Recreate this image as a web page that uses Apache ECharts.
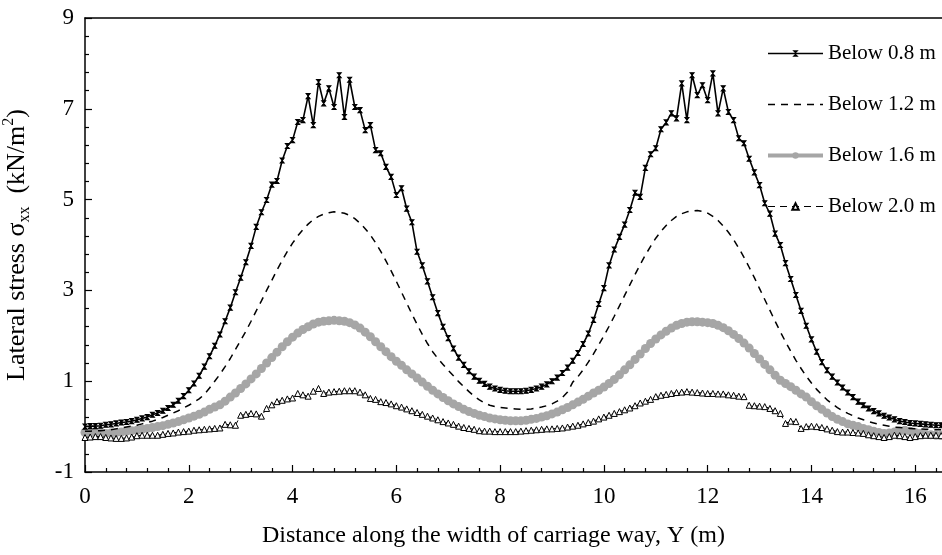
<!DOCTYPE html>
<html>
<head>
<meta charset="utf-8">
<script src="https://cdn.jsdelivr.net/npm/echarts@6/dist/echarts.min.js"></script>
<style>
  html, body { margin: 0; padding: 0; background: #fff; }
  #chart { width: 942px; height: 555px; }
</style>
</head>
<body>
<div id="chart"></div>
<script>
// Positions across the carriage way, Y (m)
const distance = [
  0.0, 0.1, 0.2, 0.3, 0.4, 0.5, 0.6, 0.7, 0.8, 0.9,
  1.0, 1.1, 1.2, 1.3, 1.4, 1.5, 1.6, 1.7, 1.8, 1.9,
  2.0, 2.1, 2.2, 2.3, 2.4, 2.5, 2.6, 2.7, 2.8, 2.9,
  3.0, 3.1, 3.2, 3.3, 3.4, 3.5, 3.6, 3.7, 3.8, 3.9,
  4.0, 4.1, 4.2, 4.3, 4.4, 4.5, 4.6, 4.7, 4.8, 4.9,
  5.0, 5.1, 5.2, 5.3, 5.4, 5.5, 5.6, 5.7, 5.8, 5.9,
  6.0, 6.1, 6.2, 6.3, 6.4, 6.5, 6.6, 6.7, 6.8, 6.9,
  7.0, 7.1, 7.2, 7.3, 7.4, 7.5, 7.6, 7.7, 7.8, 7.9,
  8.0, 8.1, 8.2, 8.3, 8.4, 8.5, 8.6, 8.7, 8.8, 8.9,
  9.0, 9.1, 9.2, 9.3, 9.4, 9.5, 9.6, 9.7, 9.8, 9.9,
  10.0, 10.1, 10.2, 10.3, 10.4, 10.5, 10.6, 10.7, 10.8, 10.9,
  11.0, 11.1, 11.2, 11.3, 11.4, 11.5, 11.6, 11.7, 11.8, 11.9,
  12.0, 12.1, 12.2, 12.3, 12.4, 12.5, 12.6, 12.7, 12.8, 12.9,
  13.0, 13.1, 13.2, 13.3, 13.4, 13.5, 13.6, 13.7, 13.8, 13.9,
  14.0, 14.1, 14.2, 14.3, 14.4, 14.5, 14.6, 14.7, 14.8, 14.9,
  15.0, 15.1, 15.2, 15.3, 15.4, 15.5, 15.6, 15.7, 15.8, 15.9,
  16.0, 16.1, 16.2, 16.3, 16.4, 16.5
];

// Lateral stress (kN/m2) below 0.8 m
const below08 = [
  0.00, 0.01, 0.01, 0.02, 0.04, 0.05, 0.07, 0.09, 0.10, 0.12,
  0.15, 0.18, 0.21, 0.26, 0.30, 0.35, 0.41, 0.48, 0.57, 0.67,
  0.80, 0.95, 1.12, 1.32, 1.55, 1.78, 2.03, 2.32, 2.62, 2.96,
  3.28, 3.62, 3.98, 4.40, 4.72, 4.99, 5.33, 5.41, 5.86, 6.18,
  6.31, 6.71, 6.75, 7.28, 6.64, 7.59, 7.12, 7.45, 7.04, 7.74,
  6.82, 7.64, 7.04, 6.97, 6.53, 6.64, 6.09, 6.02, 5.72, 5.50,
  5.10, 5.25, 4.80, 4.50, 3.85, 3.55, 3.20, 2.85, 2.50, 2.20,
  1.95, 1.72, 1.52, 1.36, 1.22, 1.10, 1.01, 0.94, 0.88, 0.84,
  0.81, 0.79, 0.78, 0.78, 0.78, 0.79, 0.81, 0.84, 0.88, 0.93,
  1.00, 1.08, 1.18, 1.30, 1.45, 1.62, 1.82, 2.05, 2.35, 2.70,
  3.05, 3.55, 3.90, 4.18, 4.45, 4.77, 5.15, 5.06, 5.70, 6.00,
  6.13, 6.55, 6.70, 6.90, 6.79, 7.56, 6.75, 7.74, 7.30, 7.52,
  7.19, 7.78, 6.90, 7.45, 6.93, 6.75, 6.35, 6.24, 5.90, 5.60,
  5.32, 4.92, 4.69, 4.25, 4.00, 3.60, 3.25, 2.90, 2.55, 2.22,
  1.92, 1.65, 1.42, 1.24, 1.10, 0.97, 0.86, 0.75, 0.65, 0.55,
  0.47, 0.40, 0.34, 0.29, 0.24, 0.20, 0.16, 0.12, 0.10, 0.08,
  0.07, 0.06, 0.05, 0.04, 0.03, 0.03
];

// Lateral stress (kN/m2) below 1.2 m
const below12 = [
  -0.10, -0.10, -0.09, -0.09, -0.08, -0.07, -0.05, -0.03, -0.01, 0.01,
  0.03, 0.06, 0.09, 0.12, 0.16, 0.20, 0.25, 0.30, 0.35, 0.41,
  0.47, 0.54, 0.61, 0.71, 0.85, 1.00, 1.15, 1.32, 1.50, 1.70,
  1.90, 2.10, 2.32, 2.55, 2.77, 3.00, 3.22, 3.45, 3.66, 3.86,
  4.04, 4.20, 4.34, 4.46, 4.56, 4.63, 4.68, 4.71, 4.73, 4.72,
  4.70, 4.65, 4.58, 4.48, 4.36, 4.22, 4.05, 3.86, 3.65, 3.43,
  3.20, 2.96, 2.72, 2.48, 2.25, 2.03, 1.83, 1.65, 1.50, 1.37,
  1.24, 1.12, 0.99, 0.88, 0.77, 0.67, 0.59, 0.52, 0.47, 0.44,
  0.42, 0.41, 0.40, 0.39, 0.38, 0.38, 0.39, 0.41, 0.43, 0.46,
  0.50, 0.56, 0.64, 0.76, 0.98, 1.10, 1.25, 1.42, 1.60, 1.80,
  2.00, 2.21, 2.43, 2.66, 2.89, 3.12, 3.35, 3.57, 3.78, 3.97,
  4.15, 4.30, 4.43, 4.54, 4.63, 4.69, 4.73, 4.75, 4.76, 4.74,
  4.70, 4.63, 4.54, 4.42, 4.28, 4.12, 3.93, 3.73, 3.51, 3.28,
  3.04, 2.80, 2.56, 2.32, 2.09, 1.87, 1.66, 1.46, 1.28, 1.11,
  0.96, 0.82, 0.70, 0.59, 0.50, 0.42, 0.35, 0.29, 0.24, 0.19,
  0.15, 0.11, 0.08, 0.05, 0.03, 0.01, -0.01, -0.02, -0.03, -0.04,
  -0.05, -0.05, -0.06, -0.06, -0.07, -0.07
];

// Lateral stress (kN/m2) below 1.6 m
const below16 = [
  -0.13, -0.14, -0.14, -0.15, -0.15, -0.14, -0.13, -0.12, -0.10, -0.09,
  -0.08, -0.06, -0.04, -0.02, 0.00, 0.02, 0.05, 0.08, 0.11, 0.15,
  0.19, 0.23, 0.27, 0.32, 0.38, 0.43, 0.48, 0.56, 0.65, 0.74,
  0.84, 0.94, 1.05, 1.16, 1.28, 1.40, 1.52, 1.64, 1.76, 1.87,
  1.97, 2.06, 2.14, 2.20, 2.26, 2.30, 2.32, 2.33, 2.34, 2.33,
  2.32, 2.29, 2.24, 2.17, 2.08, 1.98, 1.87, 1.76, 1.65, 1.54,
  1.44, 1.35, 1.25, 1.16, 1.07, 0.98, 0.89, 0.80, 0.72, 0.64,
  0.57, 0.50, 0.44, 0.38, 0.33, 0.29, 0.25, 0.22, 0.19, 0.17,
  0.15, 0.14, 0.13, 0.13, 0.13, 0.14, 0.16, 0.18, 0.21, 0.24,
  0.28, 0.32, 0.37, 0.42, 0.48, 0.54, 0.60, 0.67, 0.74, 0.80,
  0.87, 0.95, 1.04, 1.14, 1.25, 1.36, 1.48, 1.60, 1.72, 1.83,
  1.93, 2.02, 2.10, 2.17, 2.23, 2.27, 2.30, 2.31, 2.31, 2.30,
  2.29, 2.27, 2.23, 2.18, 2.11, 2.03, 1.94, 1.84, 1.73, 1.61,
  1.49, 1.37, 1.25, 1.13, 1.02, 0.95, 0.88, 0.80, 0.72, 0.65,
  0.55, 0.46, 0.38, 0.30, 0.22, 0.16, 0.11, 0.06, 0.03, 0.00,
  -0.04, -0.07, -0.10, -0.13, -0.15, -0.14, -0.12, -0.10, -0.08, -0.10,
  -0.13, -0.15, -0.17, -0.18, -0.19, -0.19
];

// Lateral stress (kN/m2) below 2.0 m
const below20 = [
  -0.24, -0.23, -0.22, -0.22, -0.24, -0.25, -0.26, -0.26, -0.25, -0.23,
  -0.20, -0.19, -0.19, -0.19, -0.19, -0.17, -0.15, -0.14, -0.12, -0.11,
  -0.10, -0.08, -0.07, -0.06, -0.05, -0.04, -0.03, 0.05, 0.04, 0.03,
  0.25, 0.27, 0.29, 0.28, 0.23, 0.40, 0.48, 0.55, 0.58, 0.61,
  0.63, 0.73, 0.70, 0.67, 0.78, 0.84, 0.73, 0.76, 0.77, 0.78,
  0.79, 0.79, 0.79, 0.76, 0.70, 0.62, 0.60, 0.55, 0.53, 0.50,
  0.46, 0.43, 0.39, 0.35, 0.31, 0.27, 0.23, 0.19, 0.15, 0.11,
  0.08, 0.05, 0.01, -0.02, -0.04, -0.06, -0.09, -0.10, -0.10, -0.11,
  -0.11, -0.11, -0.11, -0.11, -0.10, -0.09, -0.08, -0.07, -0.06, -0.05,
  -0.05, -0.04, -0.03, -0.01, 0.01, 0.03, 0.06, 0.09, 0.12, 0.17,
  0.21, 0.25, 0.29, 0.33, 0.37, 0.41, 0.46, 0.52, 0.56, 0.60,
  0.66, 0.69, 0.71, 0.73, 0.75, 0.76, 0.77, 0.76, 0.75, 0.74,
  0.73, 0.73, 0.72, 0.72, 0.70, 0.69, 0.67, 0.66, 0.47, 0.46,
  0.45, 0.44, 0.40, 0.35, 0.29, 0.07, 0.12, 0.11, -0.04, 0.00,
  0.01, 0.00, -0.02, -0.05, -0.08, -0.11, -0.12, -0.12, -0.13, -0.14,
  -0.15, -0.18, -0.20, -0.22, -0.24, -0.22, -0.19, -0.20, -0.22, -0.24,
  -0.22, -0.20, -0.19, -0.19, -0.19, -0.20
];

const seriesNames = ['Below 0.8 m', 'Below 1.2 m', 'Below 1.6 m', 'Below 2.0 m'];

const FONT = '"Liberation Serif", "Times New Roman", serif';

function pairs(values) {
  return distance.map((d, i) => [d, values[i]]);
}

// Small vertical bow-tie marker used for the 0.8 m curve
const bowTie = 'path://M0,0 L10,0 L0,10 L10,10 Z';

const chart = echarts.init(document.getElementById('chart'), null, { renderer: 'canvas' });

const axisCommon = {
  type: 'value',
  axisLine: { show: true, onZero: false, lineStyle: { color: '#000', width: 1.5 } },
  axisTick: { show: true, inside: true, length: 7, lineStyle: { color: '#000', width: 1.2 } },
  minorTick: { show: true, splitNumber: 5, length: 4, lineStyle: { color: '#000', width: 1.2 } },
  splitLine: { show: false },
  minorSplitLine: { show: false },
  axisLabel: { color: '#000', fontFamily: FONT, fontSize: 23 }
};

chart.setOption({
  animation: false,
  backgroundColor: '#fff',
  grid: { left: 85, right: -77, top: 18, bottom: 83, outerBoundsMode: 'none' },
  legend: {
    orient: 'vertical',
    left: 761,
    top: 38,
    itemWidth: 55,
    itemHeight: 8,
    itemGap: 30,
    lineStyle: { width: 'inherit' },
    textStyle: { color: '#000', fontFamily: FONT, fontSize: 21 },
    data: [
      { name: seriesNames[0] },
      { name: seriesNames[1], itemStyle: { opacity: 0 } },
      { name: seriesNames[2] },
      { name: seriesNames[3], lineStyle: { type: [7, 5], width: 1.2 } }
    ]
  },
  xAxis: [
    Object.assign({}, axisCommon, {
      min: 0, max: 18, interval: 2,
      position: 'bottom',
      axisLabel: Object.assign({}, axisCommon.axisLabel, { margin: 13 })
    }),
    {
      type: 'value', min: 0, max: 18, position: 'top',
      axisLine: { show: true, onZero: false, lineStyle: { color: '#000', width: 1.5 } },
      axisTick: { show: false }, axisLabel: { show: false }, splitLine: { show: false }
    }
  ],
  yAxis: Object.assign({}, axisCommon, {
    min: -1, max: 9, interval: 2,
    axisLabel: Object.assign({}, axisCommon.axisLabel, { margin: 11 }),
    name: '{t|Lateral stress σ}{s|xx}{t|  (kN/m}{p|2}{t|)}',
    nameLocation: 'middle',
    nameRotate: 90,
    nameGap: 52,
    nameTextStyle: {
      color: '#000',
      rich: {
        t: { fontFamily: FONT, fontSize: 26, color: '#000' },
        s: { fontFamily: FONT, fontSize: 16, color: '#000', padding: [16, 0, 0, 0] },
        p: { fontFamily: FONT, fontSize: 16, color: '#000', padding: [0, 0, 16, 0] }
      }
    }
  }),
  graphic: [{
    type: 'text',
    left: 262,
    top: 524,
    style: {
      text: 'Distance along the width of carriage way, Y (m)',
      fill: '#000',
      font: '24px ' + FONT
    }
  }],
  series: [
    {
      name: seriesNames[0], type: 'line', data: pairs(below08),
      symbol: bowTie, symbolSize: [4, 5], showAllSymbol: true,
      lineStyle: { color: '#000', width: 1.6 },
      itemStyle: { color: '#000', borderColor: '#000' },
      z: 5
    },
    {
      name: seriesNames[1], type: 'line', data: pairs(below12),
      symbol: 'none',
      lineStyle: { color: '#000', width: 1.5, type: [7, 6] },
      itemStyle: { color: '#000' },
      z: 4
    },
    {
      name: seriesNames[2], type: 'line', data: pairs(below16),
      symbol: 'circle', symbolSize: 9, showAllSymbol: true,
      lineStyle: { color: '#a6a6a6', width: 4 },
      itemStyle: { color: '#a6a6a6' },
      z: 3
    },
    {
      name: seriesNames[3], type: 'line', data: pairs(below20),
      symbol: 'triangle', symbolSize: 6, showAllSymbol: true,
      lineStyle: { color: '#000', width: 1, type: [5, 4] },
      itemStyle: { color: '#fff', borderColor: '#000', borderWidth: 1 },
      z: 6
    }
  ]
});
</script>
</body>
</html>
